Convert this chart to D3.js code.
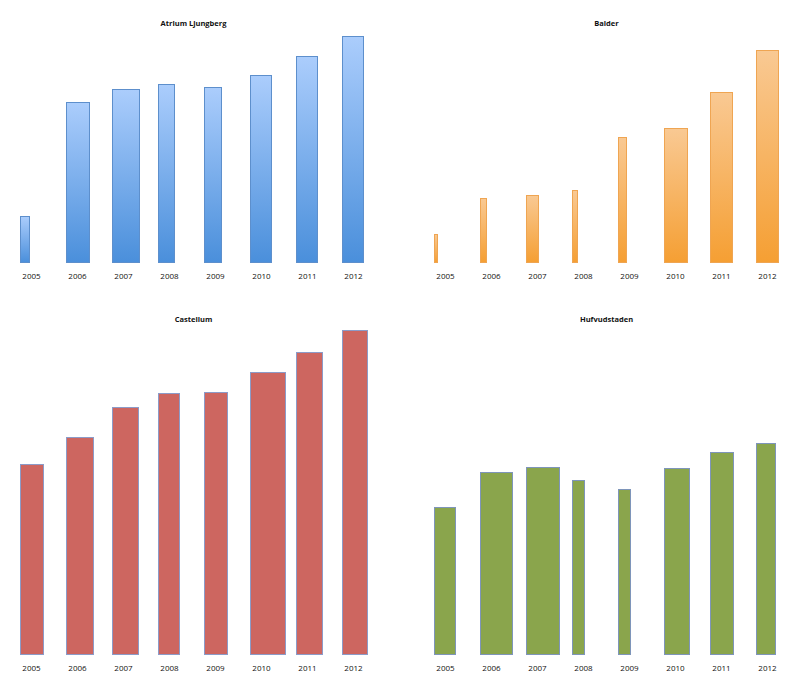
<!DOCTYPE html>
<html>
<head>
<meta charset="utf-8">
<script src="https://cdn.jsdelivr.net/npm/d3@7"></script>
<style>
  html, body { margin: 0; padding: 0; background: #fff; }
  svg { display: block; }
  text { font-family: "Open Sans", "Liberation Sans", sans-serif; fill: #111; }
</style>
</head>
<body>
<svg id="chart" width="801" height="694"></svg>
<script>
// ---- Data ----
const years = ["2005", "2006", "2007", "2008", "2009", "2010", "2011", "2012"];
const companies = ["Atrium Ljungberg", "Balder", "Castellum", "Hufvudstaden"];

// bar heights (value series, arbitrary units)
const atriumValues = [46, 160, 173, 178, 175, 187, 206, 226];
const balderValues = [28, 64, 67, 72, 125, 134, 170, 212];
const castellumValues = [190, 217, 247, 261, 262, 282, 302, 324];
const hufvudstadenValues = [147, 182, 187, 174, 165, 186, 202, 211];

// second measure, shown as bar width
const atriumWeights = [10, 24, 28, 17, 18, 22, 22, 22];
const balderWeights = [4, 7, 13, 6, 9, 24, 23, 23];
const castellumWeights = [24, 28, 27, 22, 24, 36, 27, 26];
const hufvudstadenWeights = [22, 33, 34, 13, 13, 26, 24, 20];

// ---- Layout / styles ----
const svg = d3.select("#chart");
const defs = svg.append("defs");

function grad(id, top, bottom) {
  const g = defs.append("linearGradient").attr("id", id)
    .attr("x1", 0).attr("y1", 0).attr("x2", 0).attr("y2", 1);
  g.append("stop").attr("offset", "0%").attr("stop-color", top);
  g.append("stop").attr("offset", "100%").attr("stop-color", bottom);
  return "url(#" + id + ")";
}

const panels = [
  { name: companies[0], values: atriumValues, weights: atriumWeights,
    x0: 20, base: 262, top: 36, max: 226, titleX: 193.5, titleY: 26, labelY: 281,
    fill: grad("gA", "#abcdfc", "#4a8fdb"), stroke: "#5d8fcc" },
  { name: companies[1], values: balderValues, weights: balderWeights,
    x0: 434, base: 262, top: 36, max: 226, titleX: 606.5, titleY: 26, labelY: 281,
    fill: grad("gB", "#f9c993", "#f59f33"), stroke: "#efa552" },
  { name: companies[2], values: castellumValues, weights: castellumWeights,
    x0: 20, base: 654, top: 330, max: 324, titleX: 193.5, titleY: 322, labelY: 673,
    fill: "#cd6660", stroke: "#8c9bc8" },
  { name: companies[3], values: hufvudstadenValues, weights: hufvudstadenWeights,
    x0: 434, base: 654, top: 330, max: 324, titleX: 606.5, titleY: 322, labelY: 673,
    fill: "#8aa54c", stroke: "#7e95ba" }
];

const step = 46;

panels.forEach(p => {
  const g = svg.append("g");
  const x = d3.scaleBand().domain(years).range([p.x0, p.x0 + step * years.length])
    .paddingInner(0).paddingOuter(0);
  const y = d3.scaleLinear().domain([0, p.max]).range([p.base, p.top]);
  const w = d3.scaleLinear().domain([0, step]).range([0, x.step()]);

  const rows = years.map((yr, i) => ({ yr, v: p.values[i], wt: p.weights[i] }));

  g.selectAll("rect").data(rows).enter().append("rect")
    .attr("x", d => x(d.yr) + 0.5)
    .attr("y", d => y(d.v) + 0.5)
    .attr("width", d => Math.max(1, w(d.wt) - 1))
    .attr("height", d => y(0) - y(d.v))
    .attr("fill", p.fill)
    .attr("stroke", p.stroke)
    .attr("stroke-width", 1);

  // category axis (no line/ticks, labels only)
  const axis = d3.axisBottom(x).tickSize(0).tickPadding(0);
  const ag = g.append("g").attr("transform", `translate(${x.bandwidth() * 0.25 - x.bandwidth() / 2},${p.labelY - 7.5})`).call(axis);
  ag.select(".domain").remove();
  ag.selectAll("text")
    .attr("font-size", "8px")
    .attr("fill", "#111")
    .attr("dy", "0.71em")
    .style("font-family", "'Open Sans', sans-serif");

  g.append("text")
    .attr("x", p.titleX).attr("y", p.titleY)
    .attr("text-anchor", "middle")
    .attr("font-size", "7.5px")
    .attr("font-weight", "bold")
    .text(p.name);
});
</script>
</body>
</html>
